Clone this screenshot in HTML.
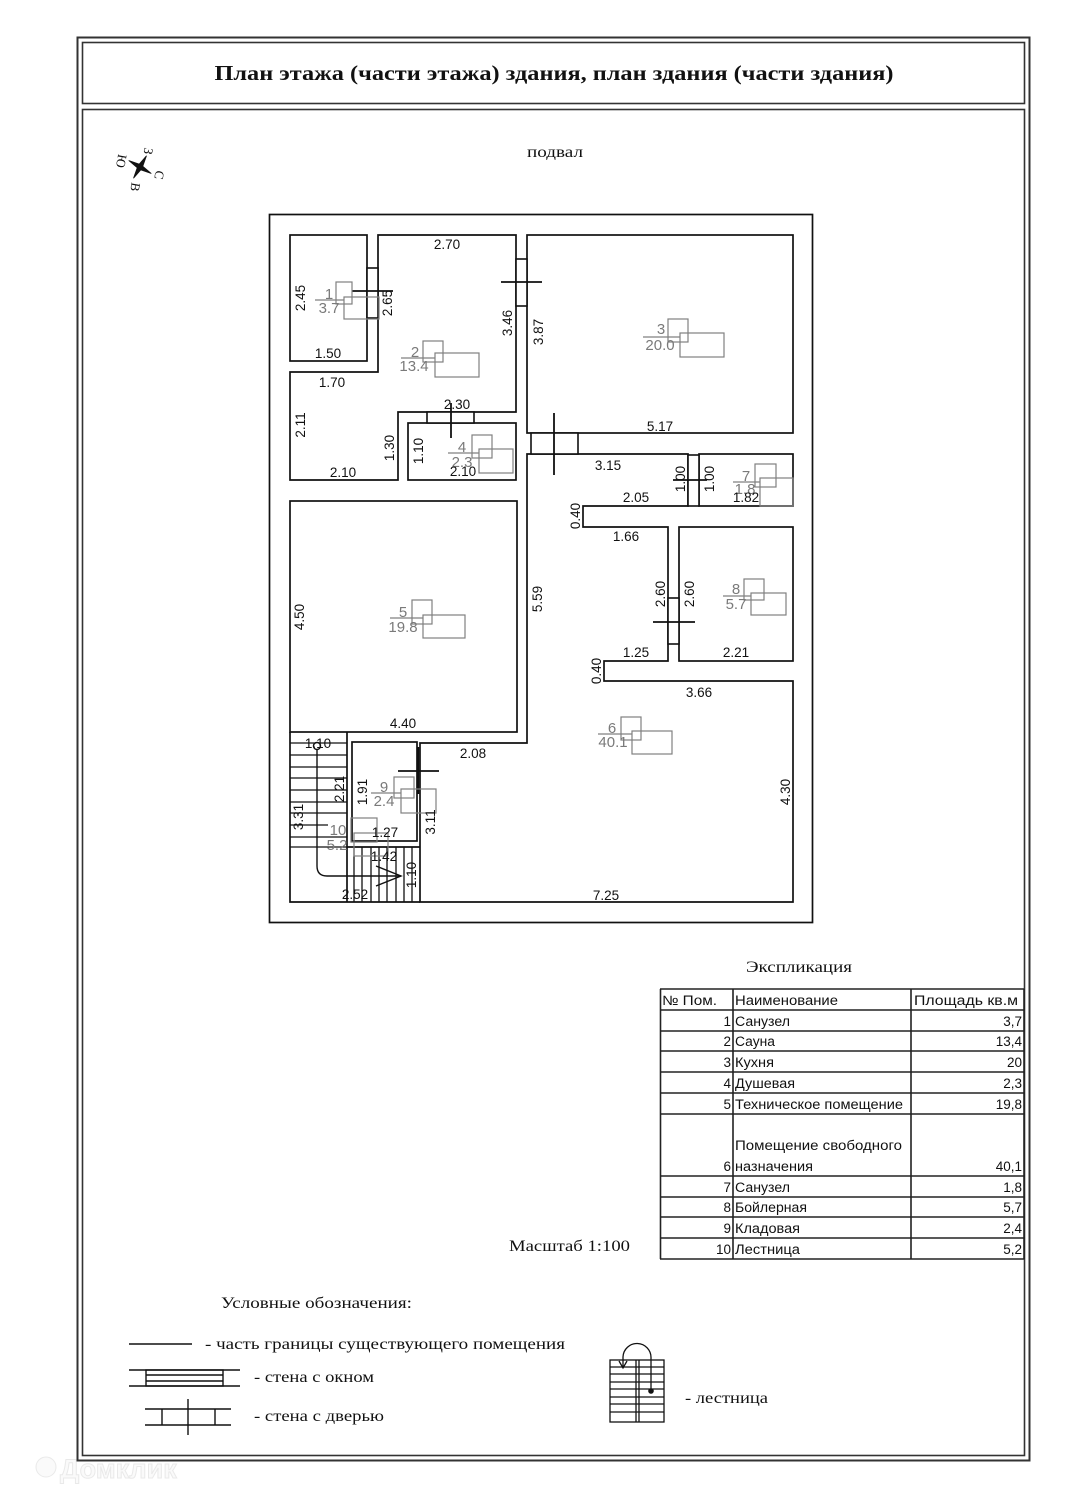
<!DOCTYPE html>
<html>
<head>
<meta charset="utf-8">
<style>
html,body{margin:0;padding:0;background:#fff;}
svg{display:block;}
.d{font-family:"Liberation Sans",sans-serif;font-size:13.5px;fill:#111;}
.g{font-family:"Liberation Sans",sans-serif;font-size:15px;fill:#7a7a7a;}
.s{font-family:"Liberation Serif","Noto Serif CJK SC",serif;fill:#111;}
.t{font-family:"Liberation Sans","DejaVu Sans",sans-serif;font-size:13.5px;fill:#111;}
</style>
</head>
<body>
<svg width="1080" height="1509" viewBox="0 0 1080 1509" xmlns="http://www.w3.org/2000/svg">
<rect x="0" y="0" width="1080" height="1509" fill="#fff"/>

<!-- watermark -->
<g opacity="0.45">
<circle cx="46" cy="1467" r="10" fill="#f4f4f4" stroke="#d0d0d0" stroke-width="1"/>
<text x="60" y="1478" font-family="Liberation Sans, sans-serif" font-size="27" font-weight="bold" fill="#f4f4f4" stroke="#d0d0d0" stroke-width="1">Домклик</text>
</g>

<!-- frames -->
<rect x="77.5" y="37.5" width="952" height="1423" fill="none" stroke="#333" stroke-width="2"/>
<rect x="82.5" y="42.5" width="942" height="61" fill="none" stroke="#333" stroke-width="1.6"/>
<rect x="82.5" y="109.5" width="942" height="1346" fill="none" stroke="#333" stroke-width="1.6"/>

<text class="s" x="554" y="80" text-anchor="middle" font-size="21" font-weight="bold" textLength="679" lengthAdjust="spacingAndGlyphs">План этажа (части этажа) здания, план здания (части здания)</text>
<text class="s" x="527" y="157" font-size="16" textLength="56" lengthAdjust="spacingAndGlyphs">подвал</text>

<!-- compass -->
<polygon points="146.5,155.7 142.8,166.3 151.3,173.5 140.8,169.9 133.5,178.3 137.2,167.7 128.7,160.5 139.2,164.1" fill="#111" stroke="#111" stroke-width="0.8"/>
<g class="s" font-size="13">
<text transform="translate(148,151) rotate(100)" text-anchor="middle" dy="4">З</text>
<text transform="translate(159,175) rotate(100)" text-anchor="middle" dy="4">С</text>
<text transform="translate(135,187) rotate(100)" text-anchor="middle" dy="4">В</text>
<text transform="translate(121,161) rotate(100)" text-anchor="middle" dy="4">Ю</text>
</g>

<!-- building -->
<g fill="none" stroke="#111" stroke-width="1.7">
<rect x="269.5" y="214.5" width="543" height="708"/>
<rect x="290" y="235" width="77" height="126"/>
<polygon points="378,235 516,235 516,412 398,412 398,480 290,480 290,372 378,372"/>
<rect x="408" y="423" width="108" height="57"/>
<rect x="527" y="235" width="266" height="198"/>
<rect x="290" y="501" width="227" height="231"/>
<polygon points="527,454 688,454 688,506 583,506 583,527 668,527 668,661 604,661 604,681 793,681 793,902 420,902 420,743 527,743"/>
<rect x="699" y="454" width="94" height="52"/>
<rect x="679" y="527" width="114" height="134"/>
<rect x="352" y="742" width="65" height="99"/>
<polyline points="290,732 290,902 420,902"/>
<line x1="347" y1="732" x2="347" y2="902"/>
<line x1="347" y1="847" x2="420" y2="847"/>
</g>

<!-- windows / doors -->
<g fill="#fff" stroke="#111" stroke-width="1.6">
<rect x="367" y="268" width="11" height="50"/>
<rect x="516" y="259" width="11" height="47"/>
<rect x="427" y="412" width="47" height="11"/>
<rect x="531" y="433" width="47" height="21"/>
<rect x="688" y="455" width="11" height="51"/>
<rect x="668" y="598" width="11" height="46"/>
</g>
<g stroke="#111" stroke-width="1.8">
<line x1="352" y1="291" x2="393" y2="291"/>
<line x1="501" y1="282" x2="542" y2="282"/>
<line x1="451" y1="403" x2="451" y2="438"/>
<line x1="554" y1="413" x2="554" y2="475"/>
<line x1="673" y1="480" x2="707" y2="480"/>
<line x1="653" y1="622" x2="695" y2="622"/>
<line x1="418" y1="747" x2="418" y2="794" stroke-width="2.6"/>
<line x1="398" y1="771" x2="439" y2="771"/>
</g>

<!-- stair lines -->
<g stroke="#111" stroke-width="1.3">
<line x1="290" y1="743" x2="347" y2="743"/>
<line x1="290" y1="755" x2="347" y2="755"/>
<line x1="290" y1="767" x2="347" y2="767"/>
<line x1="290" y1="778" x2="347" y2="778"/>
<line x1="290" y1="790" x2="347" y2="790"/>
<line x1="290" y1="802" x2="347" y2="802"/>
<line x1="290" y1="813" x2="347" y2="813"/>
<line x1="290" y1="825" x2="328" y2="825"/>
<line x1="290" y1="837" x2="347" y2="837"/>
<line x1="290" y1="847" x2="347" y2="847"/>
<line x1="354" y1="847" x2="354" y2="902"/>
<line x1="362" y1="847" x2="362" y2="902"/>
<line x1="371" y1="847" x2="371" y2="902"/>
<line x1="379" y1="847" x2="379" y2="902"/>
<line x1="387" y1="847" x2="387" y2="902"/>
<line x1="396" y1="847" x2="396" y2="902"/>
<line x1="404" y1="847" x2="404" y2="902"/>
<line x1="412" y1="847" x2="412" y2="902"/>
</g>
<g fill="none" stroke="#111" stroke-width="1.4">
<circle cx="317" cy="746" r="3.5" fill="#fff"/>
<path d="M317,750 V866 Q317,876 327,876 H401"/>
<path d="M376,866 L401,876 L376,886"/>
</g>

<!-- room labels gray boxes -->
<g fill="none" stroke="#808080" stroke-width="1.2">
<rect x="336" y="282" width="16" height="22"/><rect x="344" y="297" width="35" height="22"/><line x1="315" y1="300" x2="344" y2="300"/>
<rect x="423" y="341" width="20" height="21"/><rect x="435" y="353" width="44" height="24"/><line x1="401" y1="358" x2="435" y2="358"/>
<rect x="668" y="319" width="20" height="23"/><rect x="680" y="333" width="44" height="24"/><line x1="643" y1="337" x2="680" y2="337"/>
<rect x="472" y="435" width="20" height="23"/><rect x="479" y="449" width="34" height="24"/><line x1="448" y1="453" x2="479" y2="453"/>
<rect x="412" y="600" width="20" height="24"/><rect x="423" y="615" width="42" height="23"/><line x1="390" y1="618" x2="423" y2="618"/>
<rect x="621" y="717" width="20" height="23"/><rect x="632" y="731" width="40" height="23"/><line x1="598" y1="734" x2="632" y2="734"/>
<rect x="755" y="464" width="21" height="23"/><rect x="760" y="478" width="33" height="28"/><line x1="733" y1="482" x2="760" y2="482"/>
<rect x="744" y="579" width="20" height="21"/><rect x="751" y="593" width="35" height="22"/><line x1="723" y1="596" x2="751" y2="596"/>
<rect x="394" y="777" width="20" height="21"/><rect x="401" y="789" width="35" height="24"/><line x1="371" y1="793" x2="401" y2="793"/>
<rect x="351" y="818" width="26" height="24"/><rect x="354" y="833" width="34" height="23"/>
</g>
<g class="g" text-anchor="middle">
<text x="329" y="299">1</text><text x="329" y="313">3.7</text>
<text x="415" y="357">2</text><text x="414" y="371">13.4</text>
<text x="661" y="334">3</text><text x="660" y="350">20.0</text>
<text x="462" y="452">4</text><text x="462" y="467">2.3</text>
<text x="403" y="617">5</text><text x="403" y="632">19.8</text>
<text x="612" y="733">6</text><text x="613" y="747">40.1</text>
<text x="746" y="481">7</text><text x="745" y="494">1.8</text>
<text x="736" y="594">8</text><text x="736" y="609">5.7</text>
<text x="384" y="792">9</text><text x="384" y="806">2.4</text>
<text x="338" y="835">10</text><text x="337" y="850">5.2</text>
</g>

<!-- dimensions horizontal -->
<g class="d" text-anchor="middle">
<text x="447" y="249">2.70</text>
<text x="328" y="358">1.50</text>
<text x="332" y="387">1.70</text>
<text x="343" y="477">2.10</text>
<text x="457" y="409">2.30</text>
<text x="463" y="476">2.10</text>
<text x="660" y="431">5.17</text>
<text x="608" y="470">3.15</text>
<text x="636" y="502">2.05</text>
<text x="746" y="502">1.82</text>
<text x="626" y="541">1.66</text>
<text x="636" y="657">1.25</text>
<text x="736" y="657">2.21</text>
<text x="699" y="697">3.66</text>
<text x="606" y="900">7.25</text>
<text x="403" y="728">4.40</text>
<text x="318" y="748">1.10</text>
<text x="473" y="758">2.08</text>
<text x="385" y="837">1.27</text>
<text x="384" y="861">1.42</text>
<text x="355" y="899">2.52</text>
</g>
<!-- dimensions vertical -->
<g class="d" text-anchor="middle">
<text transform="translate(300,298) rotate(-90)" y="5">2.45</text>
<text transform="translate(387,303) rotate(-90)" y="5">2.65</text>
<text transform="translate(507,323) rotate(-90)" y="5">3.46</text>
<text transform="translate(538,332) rotate(-90)" y="5">3.87</text>
<text transform="translate(300,425) rotate(-90)" y="5">2.11</text>
<text transform="translate(389,448) rotate(-90)" y="5">1.30</text>
<text transform="translate(418,451) rotate(-90)" y="5">1.10</text>
<text transform="translate(680,479) rotate(-90)" y="5">1.00</text>
<text transform="translate(709,479) rotate(-90)" y="5">1.00</text>
<text transform="translate(575,516) rotate(-90)" y="5">0.40</text>
<text transform="translate(660,594) rotate(-90)" y="5">2.60</text>
<text transform="translate(689,594) rotate(-90)" y="5">2.60</text>
<text transform="translate(596,671) rotate(-90)" y="5">0.40</text>
<text transform="translate(785,792) rotate(-90)" y="5">4.30</text>
<text transform="translate(299,617) rotate(-90)" y="5">4.50</text>
<text transform="translate(537,599) rotate(-90)" y="5">5.59</text>
<text transform="translate(339,789) rotate(-90)" y="5">2.21</text>
<text transform="translate(362,792) rotate(-90)" y="5">1.91</text>
<text transform="translate(430,822) rotate(-90)" y="5">3.11</text>
<text transform="translate(298,817) rotate(-90)" y="5">3.31</text>
<text transform="translate(411,875) rotate(-90)" y="5">1.10</text>
</g>

<!-- explication table -->
<text class="s" x="746" y="972" font-size="16" textLength="106" lengthAdjust="spacingAndGlyphs">Экспликация</text>
<g stroke="#222" stroke-width="1.6">
<line x1="660" y1="989" x2="1024" y2="989"/>
<line x1="660" y1="1010" x2="1024" y2="1010"/>
<line x1="660" y1="1031" x2="1024" y2="1031"/>
<line x1="660" y1="1051" x2="1024" y2="1051"/>
<line x1="660" y1="1072" x2="1024" y2="1072"/>
<line x1="660" y1="1093" x2="1024" y2="1093"/>
<line x1="660" y1="1114" x2="1024" y2="1114"/>
<line x1="660" y1="1176" x2="1024" y2="1176"/>
<line x1="660" y1="1197" x2="1024" y2="1197"/>
<line x1="660" y1="1217" x2="1024" y2="1217"/>
<line x1="660" y1="1238" x2="1024" y2="1238"/>
<line x1="660" y1="1259" x2="1024" y2="1259"/>
<line x1="660.5" y1="989" x2="660.5" y2="1259"/>
<line x1="733" y1="989" x2="733" y2="1259"/>
<line x1="911" y1="989" x2="911" y2="1259"/>
<line x1="1024" y1="989" x2="1024" y2="1259"/>
</g>
<g class="t">
<text x="662" y="1005" textLength="55" lengthAdjust="spacingAndGlyphs">№ Пом.</text>
<text x="735" y="1005" textLength="103" lengthAdjust="spacingAndGlyphs">Наименование</text>
<text x="914" y="1005" textLength="104" lengthAdjust="spacingAndGlyphs">Площадь кв.м</text>

<text x="735" y="1026" textLength="55" lengthAdjust="spacingAndGlyphs">Санузел</text>
<text x="735" y="1046" textLength="40" lengthAdjust="spacingAndGlyphs">Сауна</text>
<text x="735" y="1067" textLength="39" lengthAdjust="spacingAndGlyphs">Кухня</text>
<text x="735" y="1088" textLength="60" lengthAdjust="spacingAndGlyphs">Душевая</text>
<text x="735" y="1109" textLength="168" lengthAdjust="spacingAndGlyphs">Техническое помещение</text>
<text x="735" y="1150" textLength="167" lengthAdjust="spacingAndGlyphs">Помещение свободного</text>
<text x="735" y="1171" textLength="78" lengthAdjust="spacingAndGlyphs">назначения</text>
<text x="735" y="1192" textLength="55" lengthAdjust="spacingAndGlyphs">Санузел</text>
<text x="735" y="1212" textLength="72" lengthAdjust="spacingAndGlyphs">Бойлерная</text>
<text x="735" y="1233" textLength="65" lengthAdjust="spacingAndGlyphs">Кладовая</text>
<text x="735" y="1254" textLength="65" lengthAdjust="spacingAndGlyphs">Лестница</text>
</g>
<g class="t" text-anchor="end">
<text x="731" y="1026">1</text>
<text x="731" y="1046">2</text>
<text x="731" y="1067">3</text>
<text x="731" y="1088">4</text>
<text x="731" y="1109">5</text>
<text x="731" y="1171">6</text>
<text x="731" y="1192">7</text>
<text x="731" y="1212">8</text>
<text x="731" y="1233">9</text>
<text x="731" y="1254">10</text>
<text x="1022" y="1026">3,7</text>
<text x="1022" y="1046">13,4</text>
<text x="1022" y="1067">20</text>
<text x="1022" y="1088">2,3</text>
<text x="1022" y="1109">19,8</text>
<text x="1022" y="1171">40,1</text>
<text x="1022" y="1192">1,8</text>
<text x="1022" y="1212">5,7</text>
<text x="1022" y="1233">2,4</text>
<text x="1022" y="1254">5,2</text>
</g>

<text class="s" x="509" y="1251" font-size="16" textLength="121" lengthAdjust="spacingAndGlyphs">Масштаб 1:100</text>

<!-- legend -->
<text class="s" x="221" y="1308" font-size="16" textLength="191" lengthAdjust="spacingAndGlyphs">Условные обозначения:</text>
<line x1="129" y1="1344" x2="192" y2="1344" stroke="#111" stroke-width="1.4"/>
<text class="s" x="205" y="1349" font-size="16" textLength="360" lengthAdjust="spacingAndGlyphs">- часть границы существующего помещения</text>

<g stroke="#111" stroke-width="1.4" fill="none">
<line x1="129" y1="1370" x2="240" y2="1370"/>
<line x1="129" y1="1386" x2="240" y2="1386"/>
<rect x="146" y="1370" width="77" height="16"/>
<line x1="146" y1="1375" x2="223" y2="1375"/>
<line x1="146" y1="1381" x2="223" y2="1381"/>
</g>
<text class="s" x="254" y="1382" font-size="16" textLength="120" lengthAdjust="spacingAndGlyphs">- стена с окном</text>

<g stroke="#111" stroke-width="1.4" fill="none">
<line x1="145" y1="1409" x2="231" y2="1409"/>
<line x1="145" y1="1425" x2="231" y2="1425"/>
<line x1="162" y1="1409" x2="162" y2="1425"/>
<line x1="215" y1="1409" x2="215" y2="1425"/>
<line x1="188" y1="1399" x2="188" y2="1435"/>
</g>
<text class="s" x="254" y="1421" font-size="16" textLength="130" lengthAdjust="spacingAndGlyphs">- стена с дверью</text>

<g stroke="#111" stroke-width="1.3" fill="none">
<rect x="610" y="1360" width="54" height="62"/>
<line x1="636" y1="1360" x2="636" y2="1422"/>
<line x1="639" y1="1360" x2="639" y2="1422"/>
<line x1="610" y1="1367" x2="664" y2="1367"/>
<line x1="610" y1="1374" x2="664" y2="1374"/>
<line x1="610" y1="1382" x2="664" y2="1382"/>
<line x1="610" y1="1389" x2="664" y2="1389"/>
<line x1="610" y1="1397" x2="664" y2="1397"/>
<line x1="610" y1="1404" x2="664" y2="1404"/>
<line x1="610" y1="1412" x2="664" y2="1412"/>
<path d="M651,1391 V1358 A14,14 0 0 0 623,1357 V1368"/>
<path d="M619,1361 L623,1368 L627,1361"/>
</g>
<circle cx="651" cy="1391" r="2.8" fill="#111"/>
<text class="s" x="685" y="1403" font-size="16" textLength="83" lengthAdjust="spacingAndGlyphs">- лестница</text>
</svg>
</body>
</html>
